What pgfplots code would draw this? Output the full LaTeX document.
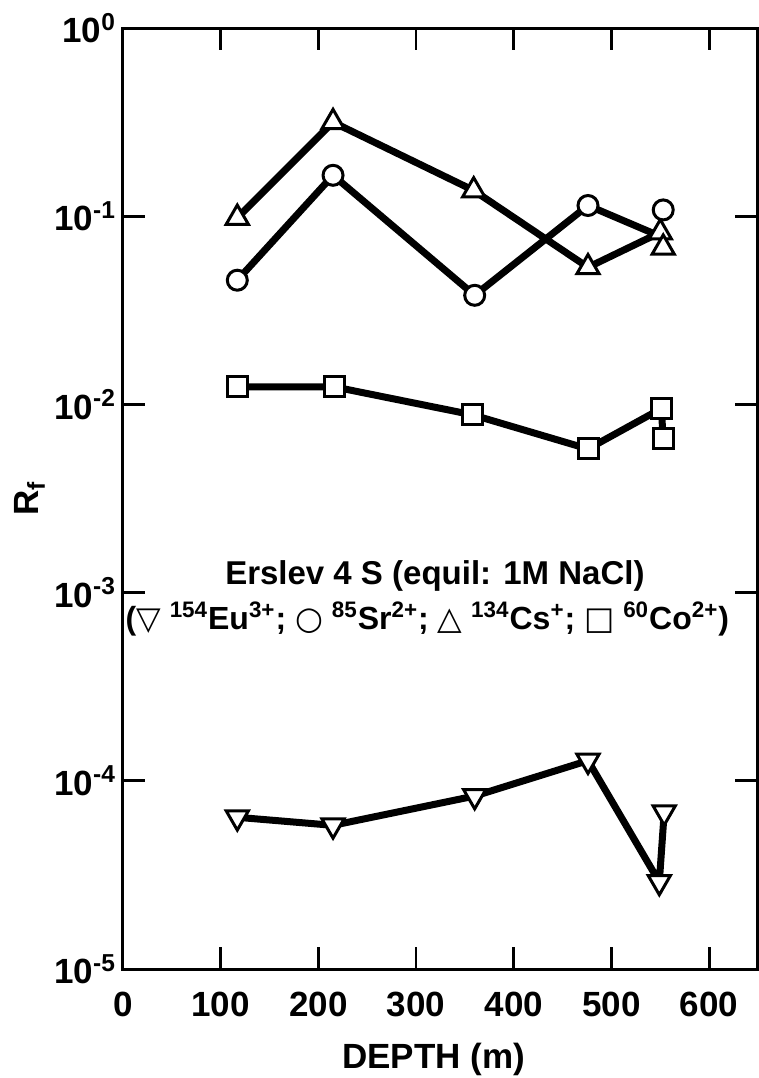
\documentclass[border=0pt]{standalone}
\usepackage{fontspec}
\setmainfont{Liberation Sans}
\newfontfamily\symfont{DejaVu Sans}
\usepackage{pgfplots}
\pgfplotsset{compat=1.18}

\begin{document}
\begin{tikzpicture}
% fixed page size: 1 px of the reference = 0.5pt
\path[use as bounding box] (-61.5pt,-54.5pt) rectangle (318pt,484.5pt);
\begin{axis}[
    scale only axis,
    width=317pt, height=470.5pt,
    at={(0,0)}, anchor=south west,
    ymode=log,
    xmin=0, xmax=649,
    ymin=1e-5, ymax=1,
    xtick={0,100,...,600},
    ytick={1e-5,1e-4,1e-3,1e-2,1e-1,1},
    yticklabels={10\textsuperscript{-5},10\textsuperscript{-4},10\textsuperscript{-3},10\textsuperscript{-2},10\textsuperscript{-1},10\textsuperscript{0}},
    minor y tick style={draw=none},
    /pgf/number format/assume math mode=true,
    tick align=inside,
    major tick length=11pt,
    tick style={line width=1.4pt, black},
    axis line style={line width=1.5pt},
    ticklabel style={font=\fontsize{17.5}{21}\selectfont\bfseries},
    xticklabel style={yshift=-8pt},
    xlabel={DEPTH (m)},
    ylabel={R\textsubscript{f}},
    label style={font=\fontsize{17.5}{21}\selectfont\bfseries},
    xlabel style={at={(axis description cs:0.49,-0.096)}, anchor=center},
    ylabel style={at={(axis description cs:-0.147,0.5)}, anchor=center},
    every axis plot/.append style={black, line width=3.5pt},
    mark options={solid, fill=white, line width=1.5pt},
    clip=false,
]

% 134Cs+ (triangles)
\addplot[mark=triangle*, mark size=6.4pt] coordinates {
    (117,0.098)(215,0.316)(359,0.137)(476,0.0535)(550,0.082)(553,0.068)
};

% 85Sr2+ (circles)
\addplot[mark=*, mark size=5pt, mark indices={1,2,3,4}] coordinates {
    (117,0.0457)(215,0.165)(360,0.038)(476,0.114)(548,0.079)
};
\addplot[only marks, mark=*, mark size=5pt] coordinates {
    (553,0.108)
};

% 60Co2+ (squares)
\addplot[mark=square*, mark size=5pt] coordinates {
    (117,0.0124)(216,0.0124)(358,0.0088)(476,0.0058)(551,0.0095)(553,0.0066)
};

% 154Eu3+ (inverted triangles)
\addplot[mark=triangle*, mark size=6.4pt, every mark/.append style={rotate=180}] coordinates {
    (117,6.4e-5)(215,5.8e-5)(360,8.3e-5)(476,1.28e-4)(549,2.9e-5)(554,6.8e-5)
};

\node[font=\fontsize{16.5}{19}\selectfont\bfseries] at (rel axis cs:0.492,0.418)
    {Erslev 4 S (equil: 1M NaCl)};
\node[font=\fontsize{16}{19}\selectfont\bfseries] at (rel axis cs:0.48,0.372)
    {({\symfont ▽} \textsuperscript{154}Eu\textsuperscript{3+}; {\symfont ○} \textsuperscript{85}Sr\textsuperscript{2+}; {\symfont △} \textsuperscript{134}Cs\textsuperscript{+}; {\symfont □} \textsuperscript{60}Co\textsuperscript{2+})};
\end{axis}
\end{tikzpicture}
\end{document}
